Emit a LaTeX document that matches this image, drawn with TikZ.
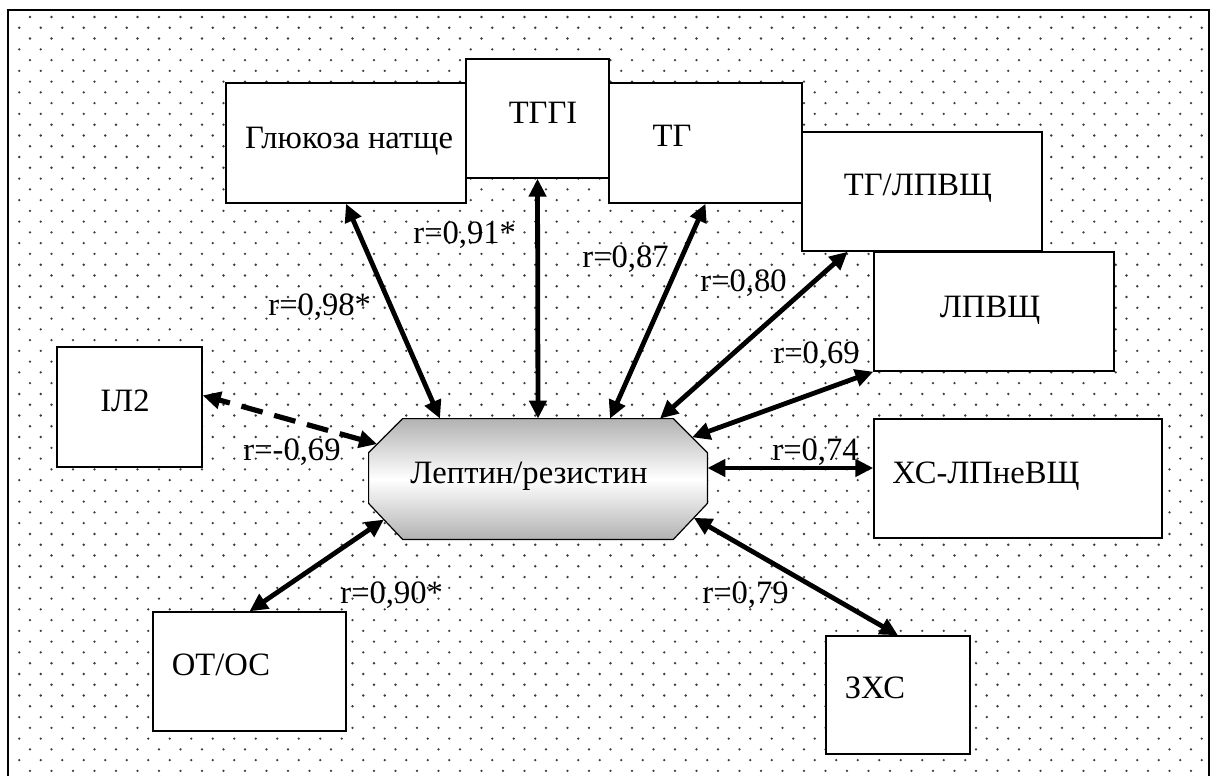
\documentclass[tikz,border=0pt]{standalone}
\usepackage{fontspec}
\setmainfont{Liberation Serif}
\usepackage{tikz}
\usetikzlibrary{arrows.meta,calc}
\definecolor{ink}{RGB}{0,0,0}
\definecolor{dotgray}{RGB}{60,60,60}
\definecolor{shade}{RGB}{178,178,178}

\begin{document}
\begin{tikzpicture}[x=0.5pt, y=-0.5pt,
    box/.style={draw=ink, fill=white, line width=0.7pt, inner sep=0pt},
    txt/.style={font=\fontsize{16.3pt}{19pt}\selectfont, text=ink, inner sep=0pt, anchor=base},
    rval/.style={font=\fontsize{16.3pt}{19pt}\selectfont, text=ink, inner sep=0pt, anchor=base west},
    link/.style={draw=ink, line width=2.4pt, {Triangle[length=9pt,width=8.5pt]}-{Triangle[length=9pt,width=8.5pt]}},
    dashlink/.style={link, line width=2.6pt, dash pattern=on 11pt off 6pt}]
  \useasboundingbox (0,0) rectangle (1211,776);
  \clip (0,0) rectangle (1211,776);
  \foreach \n in {0,...,35}
    \foreach \k in {0,...,55} {
      \fill[dotgray] (30+21.5*\k, 17+21.54*\n) circle (0.65pt);
      \fill[dotgray] (19.25+21.5*\k, 27.77+21.54*\n) circle (0.65pt);
    }
  \draw[ink, line width=0.8pt] (8,10) rectangle (1209,800);

  \node[box, minimum width=120pt, minimum height=60pt] (gluc) at (346,143) {};
  \node[box, minimum width=71.5pt, minimum height=59.5pt] (tggi) at (537.5,118.5) {};
  \node[box, minimum width=96.5pt, minimum height=60pt] (tg) at (705.5,143) {};
  \node[box, minimum width=120pt, minimum height=59.5pt] (tglpv) at (922,191.5) {};
  \node[box, minimum width=120pt, minimum height=59.5pt] (lpv) at (994,311.5) {};
  \node[box, minimum width=72.5pt, minimum height=60pt] (il2) at (129.5,407) {};
  \node[box, minimum width=144pt, minimum height=59.5pt] (hs) at (1018,478.5) {};
  \node[box, minimum width=72pt, minimum height=59pt] (zhs) at (898,695) {};
  \node[box, minimum width=96.5pt, minimum height=59.5pt] (otos) at (249.5,671.5) {};
  \node[inner sep=0pt, minimum width=169pt, minimum height=60pt] (lept) at (538,479) {};
  \coordinate (nw1) at ([xshift=17pt]lept.north west);
  \coordinate (nw2) at ([yshift=-17pt]lept.north west);
  \coordinate (ne1) at ([xshift=-17pt]lept.north east);
  \coordinate (ne2) at ([yshift=-17pt]lept.north east);
  \coordinate (se1) at ([xshift=-17pt]lept.south east);
  \coordinate (se2) at ([yshift=18pt]lept.south east);
  \coordinate (sw1) at ([xshift=17pt]lept.south west);
  \coordinate (sw2) at ([yshift=18pt]lept.south west);
  \shade[draw=ink, line width=0.6pt, top color=shade, bottom color=shade, middle color=white]
    (nw1) -- (ne1) -- (ne2) -- (se2) -- (se1) -- (sw1) -- (sw2) -- (nw2) -- cycle;

  \node[txt] (gluc-t) at (349,148) {Глюкоза натще};
  \node[txt] (tggi-t) at (543,123) {ТГГІ};
  \node[txt] (tg-t) at (672,146) {ТГ};
  \node[txt] (tglpv-t) at (918,195) {ТГ/ЛПВЩ};
  \node[txt] (lpv-t) at (990,317) {ЛПВЩ};
  \node[txt] (il2-t) at (125,411) {ІЛ2};
  \node[txt] (hs-t) at (986,483) {ХС-ЛПнеВЩ};
  \node[txt] (zhs-t) at (875,698) {ЗХС};
  \node[txt] (otos-t) at (221,675) {ОТ/ОС};
  \node[txt] (lept-t) at (529,483) {Лептин/резистин};

  \draw[link] (gluc.south) -- ([xshift=-49pt]lept.north);
  \draw[link] (tggi.south) -- (lept.north);
  \draw[link] (tg.south) -- ([xshift=36pt]lept.north);
  \draw[link] (tglpv.219) -- ([xshift=61pt]lept.north);
  \draw[link] (lpv.south west) -- ($(ne1)!0.55!(ne2)$);
  \draw[link] ([yshift=5.5pt]lept.east) -- ([yshift=5.5pt]lept.east -| hs.west);
  \draw[link] ($(se2)!0.4!(se1)$) -- (zhs.north);
  \draw[link] ($(sw2)!0.45!(sw1)$) -- (otos.north);
  \draw[dashlink] ($(nw2)!0.25!(nw1)$) -- (il2.9);

  \node[rval] (r-gluc) at (268,315) {r=0,98*};
  \node[rval] (r-tggi) at (413,243) {r=0,91*};
  \node[rval] (r-tg) at (582,267) {r=0,87};
  \node[rval] (r-tglpv) at (700,291) {r=0,80};
  \node[rval] (r-lpv) at (773,363) {r=0,69};
  \node[rval] (r-hs) at (772,460) {r=0,74};
  \node[rval] (r-zhs) at (702,603) {r=0,79};
  \node[rval] (r-otos) at (340,603) {r=0,90*};
  \node[rval] (r-il2) at (243,460) {r=-0,69};
\end{tikzpicture}
\end{document}
